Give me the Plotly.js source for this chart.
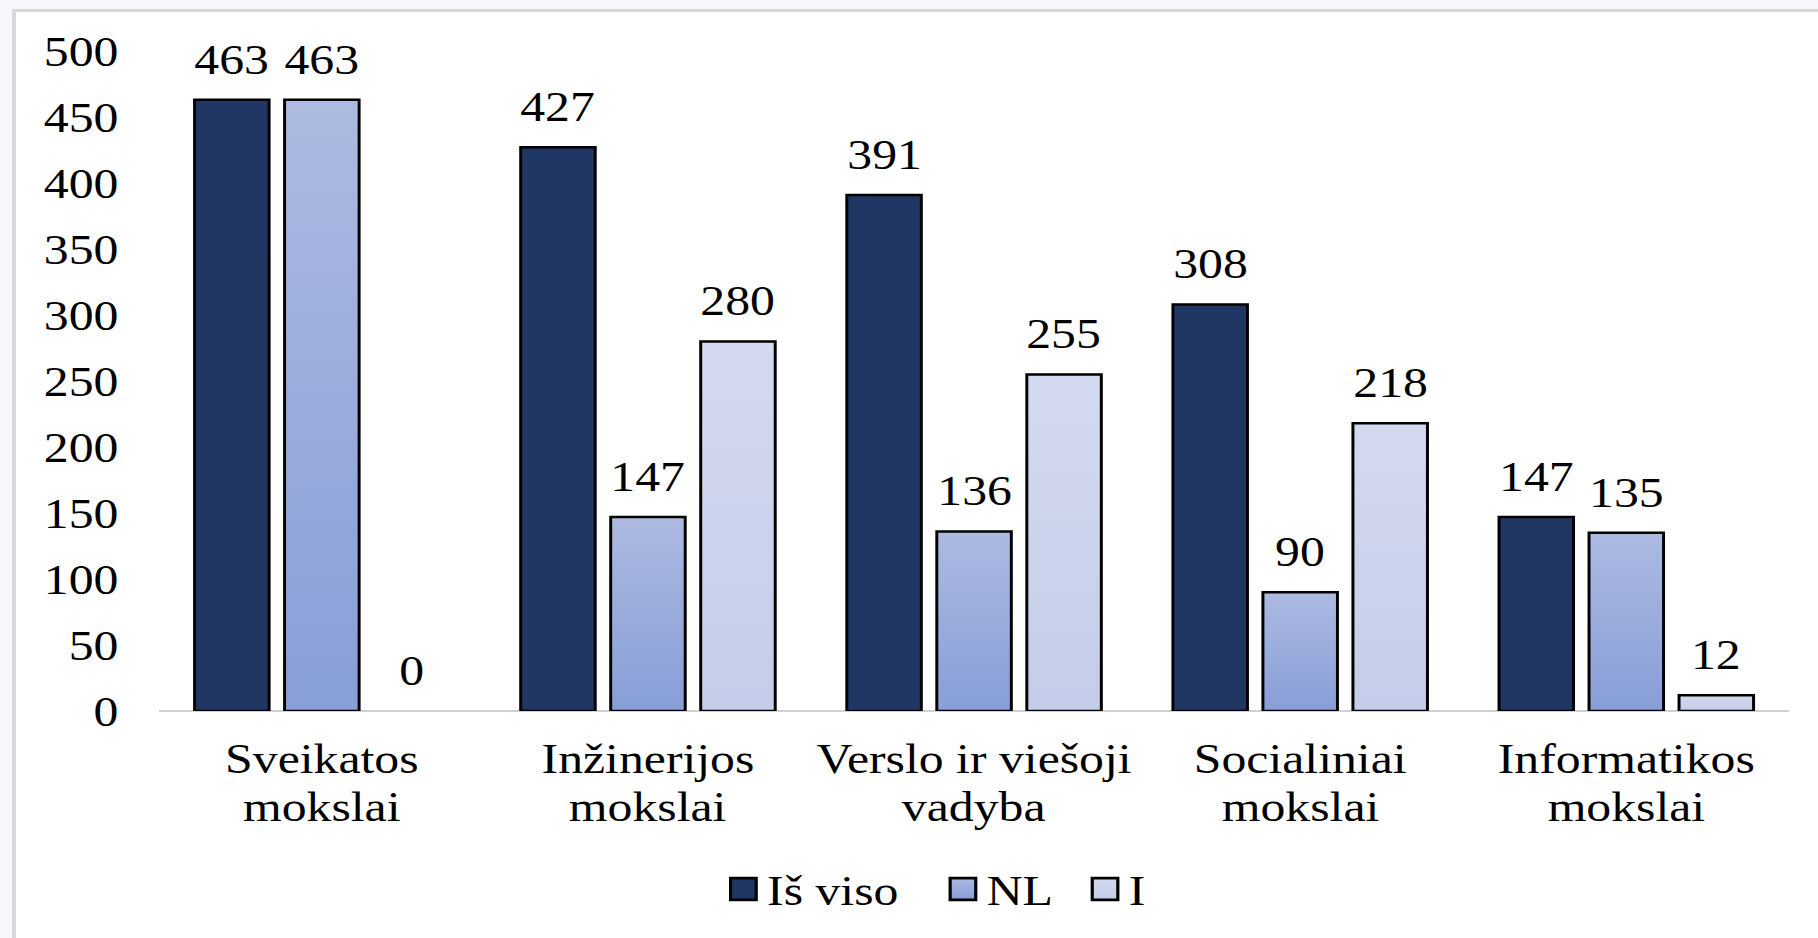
<!DOCTYPE html>
<html><head><meta charset="utf-8">
<script src="https://cdn.plot.ly/plotly-3.0.1.min.js"></script>
<style>
html,body{margin:0;padding:0;width:1818px;height:938px;overflow:hidden;background:#f6f8fc;}
#frame{position:absolute;left:12px;top:9px;right:-10px;bottom:-10px;background:#fff;border-left:4px solid #d9d9d9;border-top:3px solid #d9d9d9;}
#chart{position:absolute;left:0;top:0;width:1534px;height:938px;transform:scaleX(1.185);transform-origin:0 0;}
</style></head><body>
<div id="frame"></div>
<div id="chart"></div>
<script>
const categories = ['Sveikatos<br>mokslai', 'Inžinerijos<br>mokslai', 'Verslo ir viešoji<br>vadyba', 'Socialiniai<br>mokslai', 'Informatikos<br>mokslai'];
const seriesNames = ['Iš viso', 'NL', 'I'];
const isViso = [463, 427, 391, 308, 147];
const nlVals = [463, 147, 136, 90, 135];
const iVals = [0, 280, 255, 218, 12];
const yTicks = [0, 50, 100, 150, 200, 250, 300, 350, 400, 450, 500];

const seriesVals = [isViso, nlVals, iVals];
const catLine1 = categories.map(c => c.split('<br>')[0]);
const catLine2 = categories.map(c => c.split('<br>')[1] || '');
const colors = ['#213763', '#9aabdb', '#cbd3eb'];
const gradients = [null, ['#adbae1', '#889ed7'], ['#d3d9ef', '#c4cde9']];
const legendPad = ['\u00a0\u00a0\u2009', '\u00a0\u2009', ''];

const W = 1534, H = 938, ML = 134, MR = 24, MT = 51, MB = 227;
const BARGAP = 0.172, GROUPGAP = 0.172;
const FONT = "'Liberation Serif', 'Times New Roman', serif";
const TXT = {family: FONT, size: 42, color: '#000'};

const traces = seriesVals.map((vals, i) => ({
  type: 'bar', name: seriesNames[i] + legendPad[i], x: categories, y: vals,
  marker: {color: colors[i], line: {color: '#000', width: vals.map(v => v === 0 ? 0 : 2.5)}},
  hoverinfo: 'skip'
}));

const slot = (1 - BARGAP) * ((W - ML - MR) / categories.length) / seriesVals.length;
const annotations = [];
seriesVals.forEach((vals, i) => vals.forEach((v, j) => {
  annotations.push({
    x: categories[j], y: v, xref: 'x', yref: 'y', text: String(v), showarrow: false,
    xshift: (i - (seriesVals.length - 1) / 2) * slot, yshift: 40, yanchor: 'middle', xanchor: 'center',
    font: TXT
  });
}));
// second line of each category label, placed under the tick label
categories.forEach((c, j) => {
  annotations.push({
    x: c, y: 0, xref: 'x', yref: 'paper', text: catLine2[j], showarrow: false,
    yanchor: 'middle', xanchor: 'center', yshift: -96, font: TXT
  });
});

const layout = {
  width: W, height: H, margin: {l: ML, r: MR, t: MT, b: MB, pad: 0},
  paper_bgcolor: 'rgba(0,0,0,0)', plot_bgcolor: 'rgba(0,0,0,0)',
  font: TXT,
  barmode: 'group', bargap: BARGAP, bargroupgap: GROUPGAP,
  showlegend: true,
  legend: {orientation: 'h', x: 0.344, xanchor: 'left', y: -0.27, yanchor: 'middle',
           font: TXT, bgcolor: 'rgba(0,0,0,0)', traceorder: 'normal'},
  xaxis: {type: 'category', showgrid: false, zeroline: false, showline: false, ticks: '',
          tickmode: 'array', tickvals: categories, ticktext: catLine1,
          ticklabelstandoff: 19, tickfont: TXT, fixedrange: true},
  yaxis: {range: [0, 500], tickmode: 'array', tickvals: yTicks, ticktext: yTicks.map(String),
          showgrid: false, zeroline: true, zerolinecolor: '#d0d0d0', zerolinewidth: 2.5,
          ticks: '', ticklabelstandoff: 33, tickfont: TXT, fixedrange: true},
  yaxis2: {overlaying: 'y', range: [0, 500], tickmode: 'array', tickvals: yTicks.slice(1, -1),
           showgrid: true, gridcolor: '#d9d9d9', gridwidth: 2, showticklabels: false, zeroline: false, ticks: '', fixedrange: true},
  annotations: annotations
};

Plotly.newPlot('chart', traces, layout, {displayModeBar: false, staticPlot: true}).then(gd => {
  try {
    const ns = 'http://www.w3.org/2000/svg';
    const svg = gd.querySelector('svg.main-svg');
    let defs = svg.querySelector('defs');
    if (!defs) { defs = document.createElementNS(ns, 'defs'); svg.insertBefore(defs, svg.firstChild); }
    gradients.forEach((g, i) => {
      if (!g) return;
      const lg = document.createElementNS(ns, 'linearGradient');
      lg.setAttribute('id', 'grad' + i);
      lg.setAttribute('x1', '0'); lg.setAttribute('y1', '0'); lg.setAttribute('x2', '0'); lg.setAttribute('y2', '1');
      g.forEach((c, k) => {
        const s = document.createElementNS(ns, 'stop');
        s.setAttribute('offset', String(k)); s.setAttribute('stop-color', c);
        lg.appendChild(s);
      });
      defs.appendChild(lg);
    });
    const barTraces = gd.querySelectorAll('.barlayer .trace.bars');
    barTraces.forEach((t, i) => {
      if (!gradients[i]) return;
      t.querySelectorAll('path').forEach(p => { p.style.fill = 'url(#grad' + i + ')'; });
    });
    const legTraces = gd.querySelectorAll('.legend .traces');
    legTraces.forEach((t, i) => {
      t.querySelectorAll('.legendpoints path').forEach(p => {
        const tr = p.getAttribute('transform') || '';
        p.setAttribute('transform', tr + ' scale(1.8)');
        p.style.strokeWidth = '1.5px';
        p.style.stroke = '#000';
        if (gradients[i]) p.style.fill = 'url(#grad' + i + ')';
      });
    });
  } catch (e) { console.log(e); }
});
</script>
</body></html>
